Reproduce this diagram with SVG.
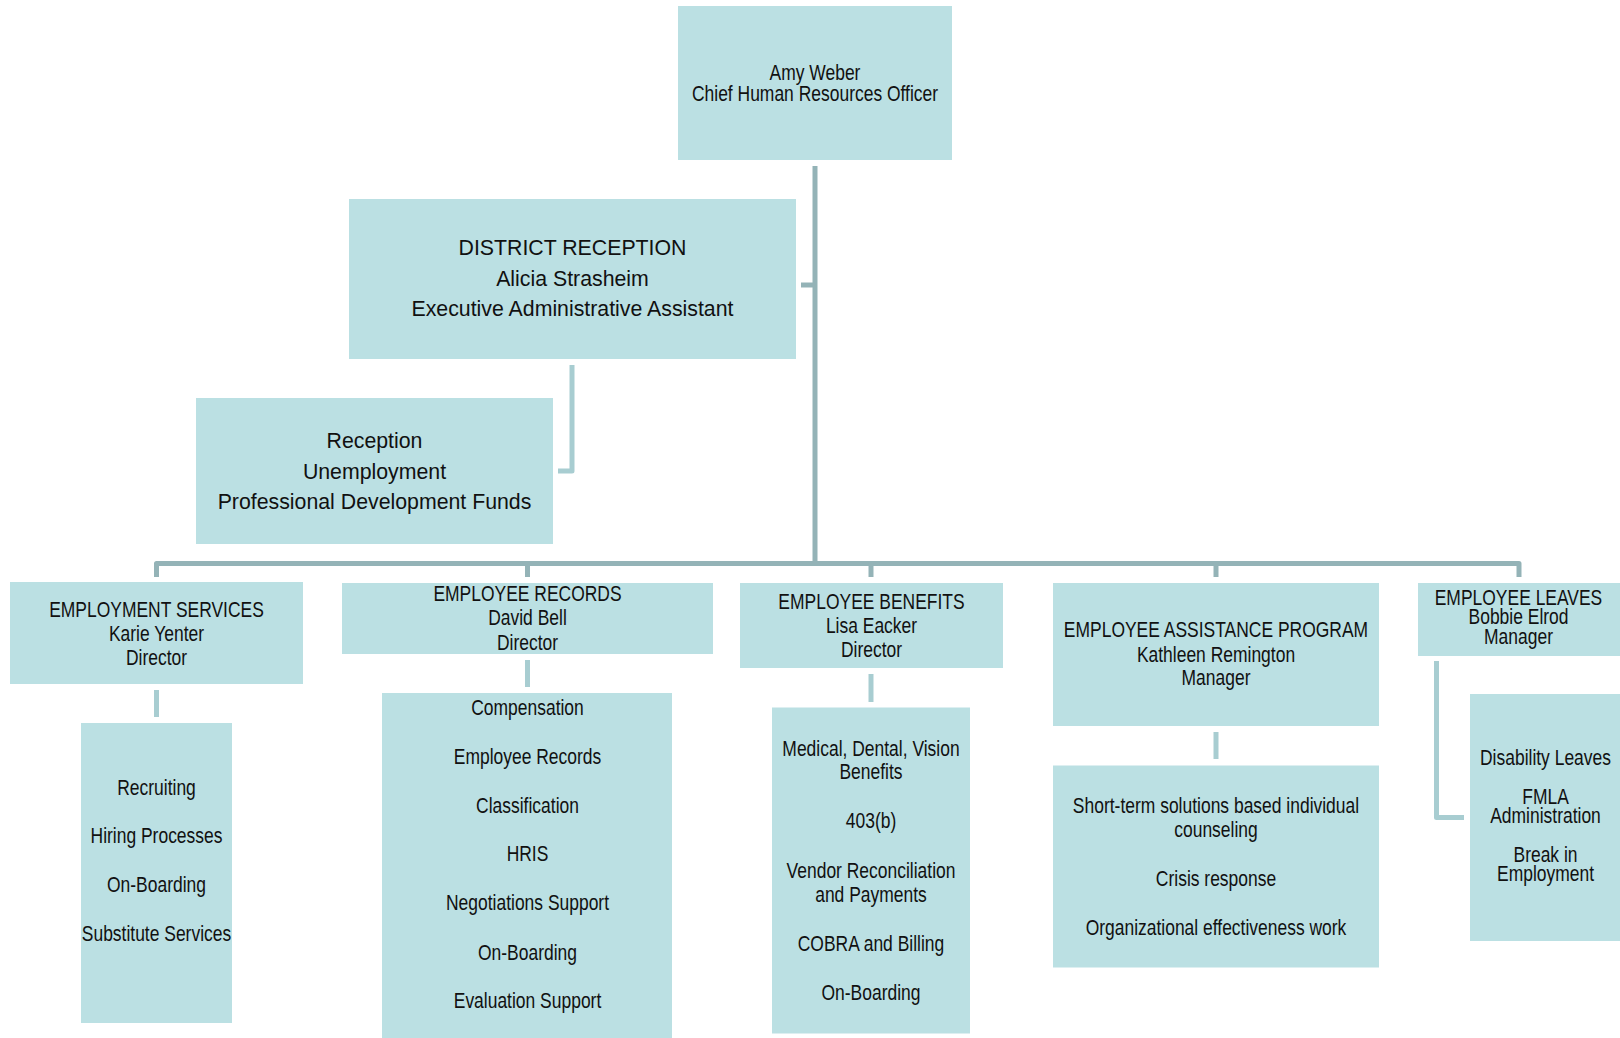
<svg xmlns="http://www.w3.org/2000/svg" width="1620" height="1038" viewBox="0 0 1620 1038">
<style>
.box{fill:#BBE0E3;}
.t{font-family:"Liberation Sans",Arial,sans-serif;font-size:21.3px;fill:#111;text-anchor:middle;}
.main{fill:none;stroke:#94B3B7;stroke-width:5;stroke-linejoin:round;}
.sub{fill:none;stroke:#A8CDD1;stroke-width:5;stroke-linejoin:round;}
</style>
<rect width="1620" height="1038" fill="#FFFFFF"/>
<g id="connectors">
<path class="main" d="M815 166 V563.5"/>
<path class="main" d="M801 285 H815"/>
<path class="main" d="M156.5 577 V563.5 H1519 V577"/>
<path class="main" d="M527.5 563.5 V577"/>
<path class="main" d="M871 563.5 V577"/>
<path class="main" d="M1216 563.5 V577"/>
<path class="sub" d="M572 365 V471 H558"/>
<path class="sub" d="M156.5 690 V717"/>
<path class="sub" d="M527.5 660 V687"/>
<path class="sub" d="M871 674 V702"/>
<path class="sub" d="M1216 732 V759"/>
<path class="sub" d="M1436.5 661 V817.5 H1464"/>
</g>
<g id="chro">
<rect class="box" x="678" y="6" width="274" height="154"/>
<g transform="translate(815 0) scale(0.82 1)"><text class="t" x="0" y="80">Amy Weber</text><text class="t" x="0" y="101">Chief Human Resources Officer</text></g>
</g>
<g id="district-reception">
<rect class="box" x="349" y="199" width="447" height="160"/>
<text class="t" x="572.5" y="255">DISTRICT RECEPTION</text>
<text class="t" x="572.5" y="286">Alicia Strasheim</text>
<text class="t" x="572.5" y="316">Executive Administrative Assistant</text>
</g>
<g id="reception">
<rect class="box" x="196" y="398" width="357" height="146"/>
<text class="t" x="374.5" y="447.5">Reception</text>
<text class="t" x="374.5" y="478.5">Unemployment</text>
<text class="t" x="374.5" y="508.5">Professional Development Funds</text>
</g>
<g id="employment-services">
<rect class="box" x="10" y="582" width="293" height="102"/>
<g transform="translate(156.5 0) scale(0.82 1)"><text class="t" x="0" y="617">EMPLOYMENT SERVICES</text><text class="t" x="0" y="641.5">Karie Yenter</text><text class="t" x="0" y="665.5">Director</text></g>
</g>
<g id="employment-services-duties">
<rect class="box" x="81" y="723" width="151" height="300"/>
<g transform="translate(156.5 0) scale(0.82 1)"><text class="t" x="0" y="795">Recruiting</text><text class="t" x="0" y="843.5">Hiring Processes</text><text class="t" x="0" y="892.5">On-Boarding</text><text class="t" x="0" y="941.5">Substitute Services</text></g>
</g>
<g id="employee-records">
<rect class="box" x="342" y="583" width="371" height="71"/>
<g transform="translate(527.5 0) scale(0.82 1)"><text class="t" x="0" y="601.5">EMPLOYEE RECORDS</text><text class="t" x="0" y="625.5">David Bell</text><text class="t" x="0" y="650">Director</text></g>
</g>
<g id="employee-records-duties">
<rect class="box" x="382" y="693" width="290" height="345"/>
<g transform="translate(527.5 0) scale(0.82 1)"><text class="t" x="0" y="715">Compensation</text><text class="t" x="0" y="764">Employee Records</text><text class="t" x="0" y="813">Classification</text><text class="t" x="0" y="861.5">HRIS</text><text class="t" x="0" y="910.5">Negotiations Support</text><text class="t" x="0" y="960">On-Boarding</text><text class="t" x="0" y="1008.5">Evaluation Support</text></g>
</g>
<g id="employee-benefits">
<rect class="box" x="740" y="583" width="263" height="85"/>
<g transform="translate(871.5 0) scale(0.82 1)"><text class="t" x="0" y="609">EMPLOYEE BENEFITS</text><text class="t" x="0" y="633.5">Lisa Eacker</text><text class="t" x="0" y="657.5">Director</text></g>
</g>
<g id="employee-benefits-duties">
<rect class="box" x="772" y="707.5" width="198" height="326"/>
<g transform="translate(871 0) scale(0.82 1)"><text class="t" x="0" y="756">Medical, Dental, Vision</text><text class="t" x="0" y="779.5">Benefits</text><text class="t" x="0" y="828.5">403(b)</text><text class="t" x="0" y="878.5">Vendor Reconciliation</text><text class="t" x="0" y="902">and Payments</text><text class="t" x="0" y="951.5">COBRA and Billing</text><text class="t" x="0" y="1000.5">On-Boarding</text></g>
</g>
<g id="employee-assistance-program">
<rect class="box" x="1053" y="583" width="326" height="143"/>
<g transform="translate(1216 0) scale(0.82 1)"><text class="t" x="0" y="637">EMPLOYEE ASSISTANCE PROGRAM</text><text class="t" x="0" y="662">Kathleen Remington</text><text class="t" x="0" y="685.5">Manager</text></g>
</g>
<g id="employee-assistance-program-duties">
<rect class="box" x="1053" y="765.5" width="326" height="202"/>
<g transform="translate(1216 0) scale(0.82 1)"><text class="t" x="0" y="813.5">Short-term solutions based individual</text><text class="t" x="0" y="837.5">counseling</text><text class="t" x="0" y="886.5">Crisis response</text><text class="t" x="0" y="935">Organizational effectiveness work</text></g>
</g>
<g id="employee-leaves">
<rect class="box" x="1418" y="583" width="202" height="73"/>
<g transform="translate(1518.5 0) scale(0.82 1)"><text class="t" x="0" y="605">EMPLOYEE LEAVES</text><text class="t" x="0" y="624.5">Bobbie Elrod</text><text class="t" x="0" y="644.5">Manager</text></g>
</g>
<g id="employee-leaves-duties">
<rect class="box" x="1470" y="694" width="150" height="247"/>
<g transform="translate(1545.5 0) scale(0.82 1)"><text class="t" x="0" y="765">Disability Leaves</text><text class="t" x="0" y="804">FMLA</text><text class="t" x="0" y="823">Administration</text><text class="t" x="0" y="862.5">Break in</text><text class="t" x="0" y="881.5">Employment</text></g>
</g>
</svg>
